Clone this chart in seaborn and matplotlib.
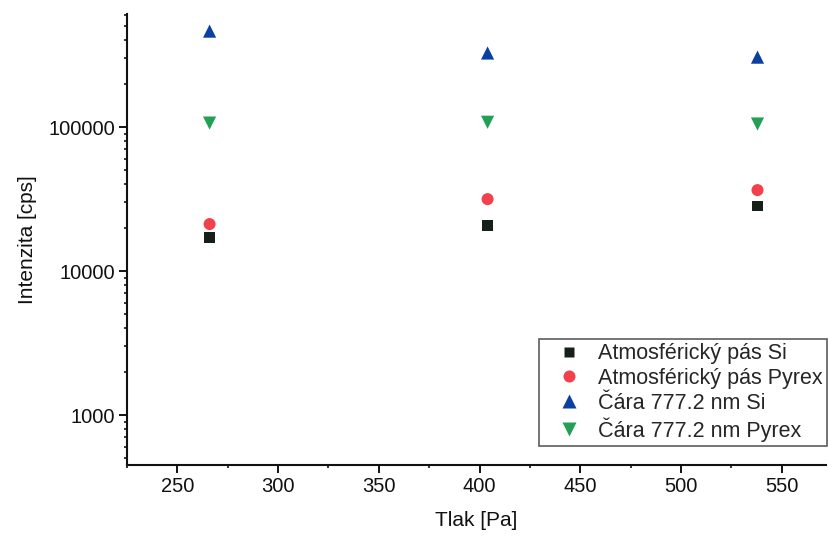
import numpy as np
import pandas as pd
import matplotlib
matplotlib.use("Agg")
import matplotlib.pyplot as plt
import matplotlib.ticker as mticker
import seaborn as sns

# Pressure [Pa]
tlak = [266, 404, 538]

# Intensities [cps]
atm_si = [17200, 20800, 28300]
atm_pyrex = [21200, 31600, 36500]
cara_si = [464000, 327000, 306000]
cara_pyrex = [106600, 108000, 105000]

series_names = [
    "Atmosférický pás Si",
    "Atmosférický pás Pyrex",
    "Čára 777.2 nm Si",
    "Čára 777.2 nm Pyrex",
]
series_values = [atm_si, atm_pyrex, cara_si, cara_pyrex]

rows = []
for name, vals in zip(series_names, series_values):
    for x, y in zip(tlak, vals):
        rows.append({"Tlak": x, "Intenzita": y, "Série": name})
df = pd.DataFrame(rows)

sns.set_theme(style="ticks")
plt.rcParams["font.family"] = ["Liberation Sans", "DejaVu Sans"]

colors = ["#142018", "#f2404c", "#0b3fa0", "#22a055"]
markers = ["s", "o", "^", "v"]
marker_sizes = [62, 75, 90, 90]
palette = dict(zip(series_names, colors))
marker_map = dict(zip(series_names, markers))
size_map = dict(zip(series_names, marker_sizes))

fig = plt.figure(figsize=(8.29, 5.37), dpi=100)
ax = fig.add_axes([127 / 829, 1 - 465 / 537, (826 - 127) / 829, (465 - 14) / 537])

sns.scatterplot(
    data=df, x="Tlak", y="Intenzita", hue="Série", style="Série", size="Série",
    palette=palette, markers=marker_map, sizes=size_map, hue_order=series_names,
    style_order=series_names, size_order=series_names, edgecolor="none", ax=ax,
)

ax.set_yscale("log")
ax.set_xlim(225, 572)
ax.set_ylim(450, 610000)

ax.xaxis.set_major_locator(mticker.MultipleLocator(50))
ax.xaxis.set_minor_locator(mticker.MultipleLocator(25))
ax.yaxis.set_major_locator(mticker.LogLocator(base=10, numticks=10))
ax.yaxis.set_minor_locator(mticker.LogLocator(base=10, subs=np.arange(2, 10), numticks=20))
ax.yaxis.set_major_formatter(mticker.FuncFormatter(lambda v, p: f"{int(round(v))}"))
ax.yaxis.set_minor_formatter(mticker.NullFormatter())

for side in ("top", "right"):
    ax.spines[side].set_visible(False)
for side in ("left", "bottom"):
    ax.spines[side].set_linewidth(1.5)
    ax.spines[side].set_color("#111111")

ax.tick_params(axis="both", which="major", direction="out", length=5.5, width=1.4,
               colors="#111111", labelsize=14.5, pad=3)
ax.tick_params(axis="both", which="minor", direction="out", length=2.5, width=1.2,
               colors="#111111")

ax.set_xlabel("Tlak [Pa]", fontsize=15, labelpad=11, color="#111111")
ax.set_ylabel("Intenzita [cps]", fontsize=15, labelpad=8, color="#111111")

leg = ax.legend(
    loc="lower right", bbox_to_anchor=(1.0015, 0.042), fontsize=15.5, frameon=True,
    fancybox=False, edgecolor="#333333", handletextpad=0.15, borderpad=0.2,
    labelspacing=0.17, handlelength=2.4, borderaxespad=0.0, title=None,
)
leg.get_frame().set_linewidth(1.2)

fig.savefig("out.png", dpi=100)
